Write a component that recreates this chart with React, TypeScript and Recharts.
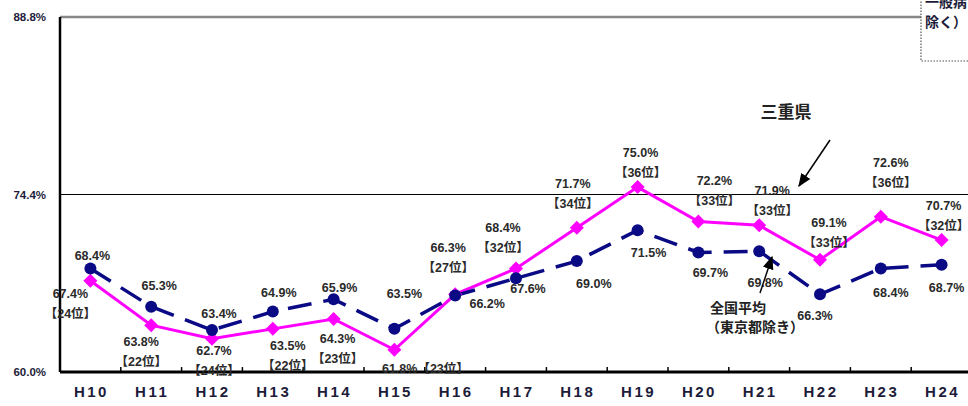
import { LineChart, Line, XAxis, YAxis, ReferenceLine, LabelList } from "recharts";

const years = ["H10", "H11", "H12", "H13", "H14", "H15", "H16", "H17", "H18", "H19", "H20", "H21", "H22", "H23", "H24"];
const mieRate = [67.4, 63.8, 62.7, 63.5, 64.3, 61.8, 66.3, 68.4, 71.7, 75.0, 72.2, 71.9, 69.1, 72.6, 70.7];
const mieRank = [24, 22, 24, 22, 23, 23, 27, 32, 34, 36, 33, 33, 33, 36, 32];
const natRate = [68.4, 65.3, 63.4, 64.9, 65.9, 63.5, 66.2, 67.6, 69.0, 71.5, 69.7, 69.8, 66.3, 68.4, 68.7];
const yTicks = [60.0, 74.4, 88.8];

const data = years.map((year, i) => ({ i, year, mie: mieRate[i], nat: natRate[i], rank: mieRank[i] }));
// small tick marks sit between categories
const boundaries = years.slice(1).map((_, i) => i + 0.5);

// label placement relative to point: [dx, dy] of first line centre
const mieOffsets = [
  [-20, 13], [-10, 16], [2, 12], [15, 17], [4, 20], [31, 19], [-7, -47], [-13, -41],
  [-4, -44], [3, -35], [16, -41], [13, -35], [9, -37], [10, -54], [2, -35],
];
const natOffsets = [
  [2, -13], [8, -21], [7, -17], [6, -19], [6, -12], [10, -35], [32, 8], [12, 10],
  [17, 22], [11, 22], [12, 20], [6, 31], [-5, 21], [10, 24], [5, 23],
];

const FONT = "'Liberation Sans', Arial, 'Noto Sans CJK JP', sans-serif";
const labelStyle = { fontFamily: FONT, fontSize: 12.5, fontWeight: 700, fill: "#2a2a2a" };

function MieLabel(props: any) {
  const { x, y, index } = props;
  const [dx, dy] = mieOffsets[index];
  const v = `${mieRate[index].toFixed(1)}%`;
  const r = `【${mieRank[index]}位】`;
  if (index === 5) {
    return (
      <text x={x + dx} y={y + dy + 4.5} textAnchor="middle" {...labelStyle}>
        {v}
        {r}
      </text>
    );
  }
  return (
    <g>
      <text x={x + dx} y={y + dy + 4.5} textAnchor="middle" {...labelStyle}>{v}</text>
      <text x={x + dx} y={y + dy + 24.5} textAnchor="middle" {...labelStyle}>{r}</text>
    </g>
  );
}

function NatLabel(props: any) {
  const { x, y, index } = props;
  const [dx, dy] = natOffsets[index];
  return (
    <text x={x + dx} y={y + dy + 4.5} textAnchor="middle" {...labelStyle}>
      {`${natRate[index].toFixed(1)}%`}
    </text>
  );
}

function Diamond(props: any) {
  const { cx, cy } = props;
  if (cx == null || cy == null) return null;
  const s = 7;
  return <polygon points={`${cx},${cy - s} ${cx + s},${cy} ${cx},${cy + s} ${cx - s},${cy}`} fill="#FF00FF" />;
}

function Circle(props: any) {
  const { cx, cy } = props;
  if (cx == null || cy == null) return null;
  return <circle cx={cx} cy={cy} r={6} fill="#0A0A85" />;
}

function YTick(props: any) {
  const { y, payload } = props;
  return (
    <text x={46} y={y + 4} textAnchor="end" fontFamily={FONT} fontSize={11.5} fontWeight={700} fill="#1c1c3a">
      {`${Number(payload.value).toFixed(1)}%`}
    </text>
  );
}

function XTick(props: any) {
  const { x, payload } = props;
  return (
    <text x={x + 1} y={397} textAnchor="middle" fontFamily={FONT} fontSize={15} fontWeight={700} letterSpacing={2.5} fill="#1c1c3a">
      {payload.value}
    </text>
  );
}

export default function App() {
  return (
    <div style={{ position: "absolute", left: 0, top: 0, width: 968, height: 406, overflow: "hidden", background: "#fff" }}>
      <LineChart width={980} height={406} data={data} margin={{ top: 17, right: 8, bottom: 0, left: 0 }}>
        <XAxis
          dataKey="year"
          height={34}
          padding={{ left: 30.4, right: 30.4 }}
          axisLine={{ stroke: "#000", strokeWidth: 3 }}
          tickLine={false}
          tick={<XTick />}
          interval={0}
        />
        <XAxis xAxisId="b" dataKey="i" type="number" domain={[-0.5, 14.5]} hide />
        <YAxis
          domain={[60, 88.8]}
          ticks={yTicks}
          width={60}
          axisLine={{ stroke: "#000", strokeWidth: 2.5 }}
          tickLine={false}
          tick={<YTick />}
          allowDataOverflow
        />
        <ReferenceLine y={74.4} stroke="#000" strokeWidth={1.2} />
        <ReferenceLine y={88.8} stroke="#888" strokeWidth={2.5} />
        {boundaries.map((b) => (
          <ReferenceLine
            key={b}
            xAxisId="b"
            segment={[{ x: b, y: 60 }, { x: b, y: 60.4 }]}
            stroke="#000"
            strokeWidth={1.5}
          />
        ))}
        <Line
          dataKey="mie"
          stroke="#FF00FF"
          strokeWidth={3}
          dot={<Diamond />}
          activeDot={false}
          isAnimationActive={false}
        >
          <LabelList dataKey="mie" content={<MieLabel />} />
        </Line>
        <Line
          dataKey="nat"
          stroke="#0A0A85"
          strokeWidth={3.5}
          strokeDasharray="24 12"
          dot={<Circle />}
          activeDot={false}
          isAnimationActive={false}
        >
          <LabelList dataKey="nat" content={<NatLabel />} />
        </Line>
      </LineChart>
      <svg width={968} height={406} style={{ position: "absolute", left: 0, top: 0, pointerEvents: "none" }}>
        <defs>
          <marker id="ah" viewBox="0 0 10 10" refX="9" refY="5" markerWidth="9" markerHeight="9" orient="auto-start-reverse">
            <path d="M0,1 L10,5 L0,9 z" fill="#000" />
          </marker>
        </defs>
        <rect x={921} y={-10} width={60} height={71} fill="#fff" stroke="#555" strokeWidth={1.2} strokeDasharray="1.5 1.5" />
        <text x={925} y={7} fontFamily={FONT} fontSize={14} fontWeight={700} fill="#1c1c3a">一般病</text>
        <text x={925} y={27} fontFamily={FONT} fontSize={14} fontWeight={700} fill="#1c1c3a">除く）</text>
        <text x={786} y={118} textAnchor="middle" fontFamily={FONT} fontSize={17} fontWeight={700} fill="#222">三重県</text>
        <line x1={830} y1={140} x2={799} y2={186} stroke="#000" strokeWidth={1.5} markerEnd="url(#ah)" />
        <line x1={760} y1={293} x2={772} y2={257} stroke="#000" strokeWidth={1.5} markerEnd="url(#ah)" />
        <text x={710} y={313} fontFamily={FONT} fontSize={14} fontWeight={700} fill="#222">全国平均</text>
        <text x={706} y={332} fontFamily={FONT} fontSize={14} fontWeight={700} fill="#222">（東京都除き）</text>
      </svg>
    </div>
  );
}
